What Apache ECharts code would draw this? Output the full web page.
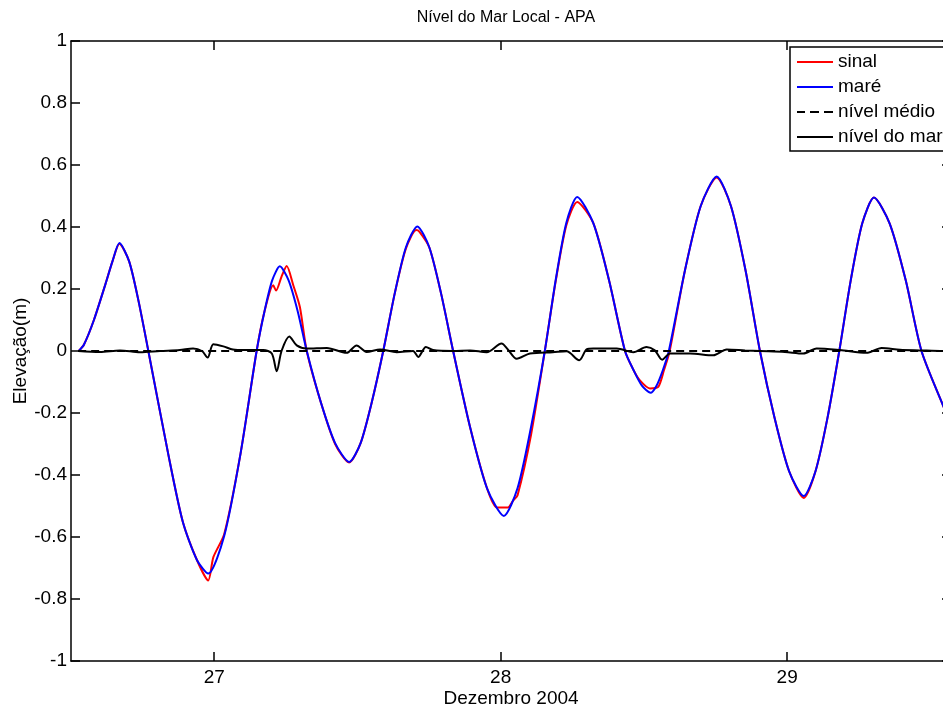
<!DOCTYPE html>
<html>
<head>
<meta charset="utf-8">
<script src="https://cdn.jsdelivr.net/npm/echarts@6/dist/echarts.min.js"></script>
<style>
html,body{margin:0;padding:0;background:#fff;}
#chart{width:943px;height:709px;}
</style>
</head>
<body>
<div id="chart"></div>
<script>
// ---- data (x in days of December 2004, y in metres) ----
const chartTitle = 'Nível do Mar Local - APA';
const xName = 'Dezembro 2004';
const yName = 'Elevação(m)';
const xTicks = [27, 28, 29];
const xMin = 26.5;
const xMax = 29.572;
const yMin = -1, yMax = 1, yStep = 0.2;

const mare = [
  [26.527, 0.000], [26.545, 0.020], [26.580, 0.100], [26.620, 0.215], [26.645, 0.290], [26.669, 0.348],
  [26.703, 0.289], [26.736, 0.160], [26.770, 0.000], [26.840, -0.335], [26.890, -0.550], [26.940, -0.675],
  [26.979, -0.718],
  [27.035, -0.596], [27.092, -0.330], [27.148, 0.000], [27.175, 0.126], [27.202, 0.227], [27.229, 0.273],
  [27.260, 0.227], [27.292, 0.126], [27.323, 0.000], [27.372, -0.165], [27.422, -0.297], [27.471, -0.358],
  [27.511, -0.297], [27.550, -0.165], [27.590, 0.000], [27.630, 0.185], [27.669, 0.334], [27.709, 0.402],
  [27.751, 0.334], [27.792, 0.185], [27.834, 0.000], [27.893, -0.245], [27.952, -0.442], [28.011, -0.532],
  [28.059, -0.442], [28.106, -0.245], [28.154, 0.000], [28.192, 0.229], [28.229, 0.413], [28.267, 0.497],
  [28.323, 0.413], [28.378, 0.229], [28.434, 0.000], [28.464, -0.062], [28.493, -0.112], [28.523, -0.135],
  [28.544, -0.112], [28.566, -0.062], [28.587, 0.000], [28.643, 0.259], [28.698, 0.467], [28.754, 0.563],
  [28.804, 0.467], [28.855, 0.259], [28.905, 0.000], [28.956, -0.215], [29.007, -0.388], [29.058, -0.468],
  [29.099, -0.388], [29.141, -0.215], [29.182, 0.000], [29.222, 0.228], [29.262, 0.411], [29.303, 0.495],
  [29.358, 0.411], [29.414, 0.228], [29.469, 0.000], [29.544, -0.175], [29.572, -0.235]
];

const sinal = [
  [26.527, 0.000], [26.545, 0.020], [26.580, 0.100], [26.620, 0.215], [26.645, 0.290], [26.669, 0.346],
  [26.703, 0.289], [26.736, 0.160], [26.770, 0.000], [26.840, -0.335], [26.890, -0.550], [26.940, -0.675],
  [26.979, -0.740], [26.997, -0.665], [27.035, -0.590], [27.092, -0.330], [27.148, 0.000], [27.175, 0.126],
  [27.206, 0.212], [27.216, 0.195], [27.235, 0.240], [27.253, 0.274], [27.276, 0.212], [27.299, 0.142],
  [27.323, 0.000], [27.372, -0.165], [27.422, -0.300], [27.471, -0.360], [27.511, -0.297], [27.550, -0.165],
  [27.590, 0.000], [27.630, 0.185], [27.669, 0.330], [27.705, 0.390], [27.716, 0.385], [27.751, 0.334],
  [27.792, 0.185], [27.834, 0.000], [27.893, -0.245], [27.952, -0.442], [27.987, -0.505], [28.005, -0.505],
  [28.025, -0.505], [28.044, -0.482], [28.059, -0.465], [28.106, -0.270], [28.154, 0.000], [28.192, 0.225],
  [28.229, 0.405], [28.267, 0.481], [28.323, 0.413], [28.378, 0.229], [28.434, 0.000], [28.464, -0.062],
  [28.486, -0.095], [28.521, -0.121], [28.550, -0.116], [28.570, -0.062], [28.590, 0.000], [28.643, 0.259],
  [28.698, 0.467], [28.754, 0.560], [28.804, 0.467], [28.855, 0.259], [28.905, 0.000], [28.956, -0.215],
  [29.007, -0.388], [29.058, -0.474], [29.099, -0.388], [29.141, -0.215], [29.182, 0.000], [29.222, 0.228],
  [29.262, 0.411], [29.303, 0.495], [29.358, 0.411], [29.414, 0.228], [29.469, 0.000], [29.544, -0.175],
  [29.572, -0.235]
];

const nivelMedio = [[26.525, 0.0], [29.572, 0.0]];

const nivelMar = [
  [26.525, 0.000], [26.601, -0.003], [26.671, 0.002], [26.741, -0.004], [26.811, 0.000], [26.880, 0.003],
  [26.926, 0.008], [26.957, 0.000], [26.977, -0.021], [26.997, 0.022], [27.032, 0.015], [27.065, 0.005],
  [27.107, 0.003], [27.171, 0.003], [27.201, -0.008], [27.218, -0.065], [27.235, 0.000], [27.262, 0.047],
  [27.288, 0.018], [27.323, 0.008], [27.393, 0.010], [27.462, -0.006], [27.497, 0.018], [27.532, -0.003],
  [27.579, 0.005], [27.637, -0.004], [27.694, 0.000], [27.712, -0.019], [27.739, 0.013], [27.764, 0.003],
  [27.833, 0.000], [27.893, 0.002], [27.951, -0.004], [28.003, 0.024], [28.025, 0.005], [28.056, -0.025],
  [28.102, -0.008], [28.182, -0.004], [28.230, -0.001], [28.274, -0.030], [28.300, 0.005], [28.323, 0.008],
  [28.405, 0.008], [28.463, -0.004], [28.509, 0.013], [28.538, 0.002], [28.564, -0.028], [28.591, -0.008],
  [28.661, -0.008], [28.742, -0.014], [28.789, 0.005], [28.853, 0.002], [28.905, 0.000], [28.992, -0.003],
  [29.056, -0.008], [29.103, 0.008], [29.184, 0.003], [29.277, -0.006], [29.330, 0.010], [29.394, 0.004],
  [29.463, 0.002], [29.544, 0.000], [29.572, 0.000]
];

const seriesNames = ['sinal', 'maré', 'nível médio', 'nível do mar'];
const seriesColors = ['#ff0000', '#0000ff', '#000000', '#000000'];

// ---- chart ----
const FONT = 'Liberation Sans, Arial, sans-serif';
const chart = echarts.init(document.getElementById('chart'), null, {renderer: 'canvas'});

const axisLineStyle = {color: '#000', width: 1.5};
const fmtY = v => String(+v.toFixed(1));
const solidIcon = 'path://M0,0L36,0L36,2L0,2Z';
const dashIcon = 'path://M0,0L8,0L8,2L0,2Z M13,0L22,0L22,2L13,2Z M27,0L36,0L36,2L27,2Z';

chart.setOption({
  animation: false,
  backgroundColor: '#ffffff',
  title: {
    text: chartTitle,
    left: 506, top: 10, padding: 0,
    textAlign: 'center',
    textStyle: {fontFamily: FONT, fontSize: 16, fontWeight: 'normal', color: '#000'}
  },
  grid: {left: 71, top: 41, width: 880, height: 620, containLabel: false, outerBoundsMode: 'none'},
  legend: {
    orient: 'vertical',
    left: 790, top: 47,
    padding: [5, 8, 4, 7],
    itemWidth: 36, itemHeight: 2, itemGap: 5,
    symbolKeepAspect: false,
    borderColor: '#000', borderWidth: 1.5,
    backgroundColor: '#fff',
    textStyle: {fontFamily: FONT, fontSize: 19, color: '#000', lineHeight: 20},
    data: [
      {name: seriesNames[0], icon: solidIcon, itemStyle: {color: seriesColors[0]}},
      {name: seriesNames[1], icon: solidIcon, itemStyle: {color: seriesColors[1]}},
      {name: seriesNames[2], icon: dashIcon, itemStyle: {color: seriesColors[2]}},
      {name: seriesNames[3], icon: solidIcon, itemStyle: {color: seriesColors[3]}}
    ]
  },
  xAxis: [{
    type: 'value', min: xMin, max: xMax, position: 'bottom',
    name: xName, nameLocation: 'middle', nameGap: 28, nameMoveOverlap: false,
    nameTextStyle: {fontFamily: FONT, fontSize: 19, color: '#000'},
    axisLine: {show: true, onZero: false, lineStyle: axisLineStyle},
    axisTick: {show: true, inside: true, length: 9, customValues: xTicks, lineStyle: axisLineStyle},
    axisLabel: {show: true, customValues: xTicks, margin: 7, fontFamily: FONT, fontSize: 19, color: '#000',
      formatter: v => String(Math.round(v))},
    splitLine: {show: false}
  }, {
    type: 'value', min: xMin, max: xMax, position: 'top',
    axisLine: {show: true, onZero: false, lineStyle: axisLineStyle},
    axisTick: {show: true, inside: true, length: 9, customValues: xTicks, lineStyle: axisLineStyle},
    axisLabel: {show: false},
    splitLine: {show: false}
  }],
  yAxis: [{
    type: 'value', min: yMin, max: yMax, interval: yStep, position: 'left',
    name: yName, nameLocation: 'middle', nameGap: 41, nameMoveOverlap: false,
    nameTextStyle: {fontFamily: FONT, fontSize: 19, color: '#000'},
    axisLine: {show: true, onZero: false, lineStyle: axisLineStyle},
    axisTick: {show: true, inside: true, length: 9, lineStyle: axisLineStyle},
    axisLabel: {show: true, margin: 4, fontFamily: FONT, fontSize: 19, color: '#000', formatter: fmtY},
    splitLine: {show: false}
  }, {
    type: 'value', min: yMin, max: yMax, interval: yStep, position: 'right',
    axisLine: {show: true, onZero: false, lineStyle: axisLineStyle},
    axisTick: {show: true, inside: true, length: 9, lineStyle: axisLineStyle},
    axisLabel: {show: false},
    splitLine: {show: false}
  }],
  series: [{
    name: seriesNames[0], type: 'line', data: sinal, showSymbol: false, symbol: 'none',
    smooth: 0.25, z: 2,
    lineStyle: {color: seriesColors[0], width: 2}, itemStyle: {color: seriesColors[0]}
  }, {
    name: seriesNames[1], type: 'line', data: mare, showSymbol: false, symbol: 'none',
    smooth: 0.25, z: 3,
    lineStyle: {color: seriesColors[1], width: 2}, itemStyle: {color: seriesColors[1]}
  }, {
    name: seriesNames[2], type: 'line', data: nivelMedio, showSymbol: false, symbol: 'none',
    z: 4,
    lineStyle: {color: seriesColors[2], width: 2, type: [8, 5]}, itemStyle: {color: seriesColors[2]}
  }, {
    name: seriesNames[3], type: 'line', data: nivelMar, showSymbol: false, symbol: 'none',
    smooth: 0.3, z: 5,
    lineStyle: {color: seriesColors[3], width: 2}, itemStyle: {color: seriesColors[3]}
  }]
});
</script>
</body>
</html>
